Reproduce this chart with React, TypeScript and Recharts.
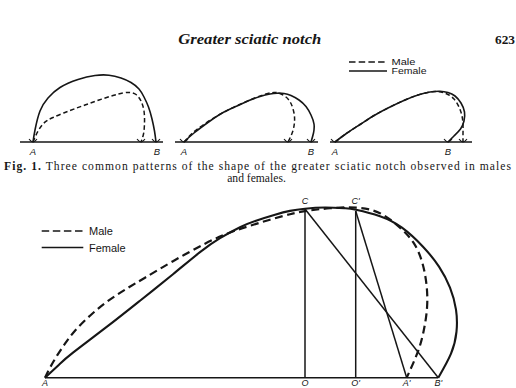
import { LineChart, Line, XAxis, YAxis } from "recharts"

const W = 516
const H = 388
const INK = "#161616"

type Pt = [number, number]

// Fig. 1: three outlines of the notch. x is measured from A along the base, h is the height above it
const notch1Female: Pt[] = [[0, 0], [2, 12], [7, 31], [15, 44], [27, 54.5], [45, 62.5], [62, 66.5], [76, 66.8], [88, 64], [98, 59.5], [106, 53], [111, 45], [115.5, 35], [119, 23], [121.5, 11], [123, 0]]
const notch1Male: Pt[] = [[0, 0], [4, 9], [10, 18], [20, 24.5], [37, 31.5], [52, 37], [66, 42], [80, 46.5], [90, 49], [97, 49.5], [103, 47.5], [108, 41], [111, 31], [111.5, 19], [110.5, 8], [108, 0]]
const notch2Female: Pt[] = [[0, 0], [10, 9], [26, 21], [40, 30], [53, 36], [65, 41.5], [76, 45.5], [86, 48], [93, 48.8], [100, 48.5], [107, 46.5], [115, 42], [122, 35.5], [127, 27], [130, 18], [129.5, 9], [127, 0]]
const notch2Male: Pt[] = [[0, 0], [8, 8.5], [19, 17], [33, 26], [46, 33], [60, 39.5], [72, 44.5], [82, 48], [90, 49.5], [96, 48.5], [102, 45], [107, 38.5], [110, 29], [110.5, 20], [108.5, 10], [104, 0]]
const notch3Female: Pt[] = [[0, 0], [12, 9], [25, 17.5], [40, 27], [55, 35], [70, 42], [83, 47], [95, 50], [105, 50.8], [113, 49.5], [120, 46], [126, 39], [129.5, 30], [129, 21], [125.5, 13], [119, 6], [113, 0]]
const notch3Male: Pt[] = [[0, 0], [12, 9], [25, 17.5], [40, 27], [55, 35], [70, 42], [83, 47], [95, 50], [104, 50.3], [112, 48], [119, 43], [124, 35], [127, 26], [128, 17], [128, 8], [128, 0]]

const notchA = [33, 184, 335]
const notchBaseY = 142
const notchBase: Pt[] = [[-13, 130], [-9, 134], [-5, 137]]
const notchLabels = [["A", "B"], ["A", "B"], ["A", "B"]]

// Fig. 2: mean outlines with the construction lines
const fig2Female: Pt[] = [[0, 0], [14, 13], [28, 25], [62, 51], [95, 77], [128, 103.5], [155, 125.5], [175, 139.5], [195, 150.5], [211, 157], [230, 163], [245, 166.8], [260, 169], [280, 170.2], [300, 169.5], [311, 168], [335, 161.5], [357, 150], [378, 131], [394, 111], [405, 90], [411, 68], [411.5, 46], [406, 24], [393.3, 0]]
const fig2Male: Pt[] = [[0, 0], [5, 10], [12, 22], [20, 34], [30, 47], [45, 62], [62, 76], [80, 88], [100, 100], [128, 116.5], [160, 134], [190, 147], [225, 158], [245, 163.5], [260, 166.5], [285, 169.5], [311.7, 170], [335, 164.5], [355, 150], [368.5, 135], [377, 116], [381.5, 93], [382, 69.5], [378.5, 46], [372.5, 25], [361.7, 0]]
const fig2Names = ["A", "C", "C'", "O", "O'", "A'", "B'"]
const fig2X = [0, 260, 310.7, 260, 310.7, 361.7, 393.3]
const fig2H = [0, 168.7, 166.7, 0, 0, 0, 0]
const fig2Segments = [["A", "B'"], ["C", "O"], ["C'", "O'"], ["C", "B'"], ["C'", "A'"]]

const fig2A = 45
const fig2BaseY = 377.7

const place = (pts: Pt[], ox: number, baseY: number) =>
  pts.map(([x, h]) => ({ x: ox + x, y: H - baseY + h }))

type Series = { id: string; data: { x: number; y: number }[]; dash?: string; width: number; curve: "natural" | "linear" }

const series: Series[] = []

const notchSets = [
  [notch1Male, notch1Female],
  [notch2Male, notch2Female],
  [notch3Male, notch3Female],
]
notchSets.forEach(([male, female], i) => {
  const ox = notchA[i]
  series.push({ id: `base${i}`, data: place([[notchBase[i][0], 0], [notchBase[i][1], 0]], ox, notchBaseY), width: 1.4, curve: "linear" })
  const ends = [0, female[female.length - 1][0], male[male.length - 1][0]]
  ends.forEach((e, j) => {
    series.push({ id: `tick${i}${j}`, data: place([[e - 4, 3], [e, 0], [e + 4, 3]], ox, notchBaseY), width: 1.1, curve: "natural" })
  })
  series.push({ id: `male${i}`, data: place(male, ox, notchBaseY), dash: "4.5 2.8", width: 1.5, curve: "natural" })
  series.push({ id: `female${i}`, data: place(female, ox, notchBaseY), width: 1.6, curve: "natural" })
})

const fig2Pt = (name: string): Pt => {
  const k = fig2Names.indexOf(name)
  return [fig2X[k], fig2H[k]]
}
fig2Segments.forEach(([a, b], i) => {
  series.push({ id: `seg${i}`, data: place([fig2Pt(a), fig2Pt(b)], fig2A, fig2BaseY), width: i === 0 ? 1.6 : 1.5, curve: "linear" })
})
series.push({ id: "fig2male", data: place(fig2Male, fig2A, fig2BaseY), dash: "8 4.5", width: 2.2, curve: "natural" })
series.push({ id: "fig2female", data: place(fig2Female, fig2A, fig2BaseY), width: 2.1, curve: "natural" })

const sans = "'Liberation Sans', Arial, sans-serif"
const serif = "'Liberation Serif', 'Times New Roman', serif"

function Texts() {
  return (
    <svg width={W} height={H} style={{ position: "absolute", left: 0, top: 0, pointerEvents: "none" }}>
      <text x={178.3} y={43.5} textLength={143} lengthAdjust="spacingAndGlyphs" fontFamily={serif} fontStyle="italic" fontWeight="bold" fontSize={14.5} fill={INK}>
        Greater sciatic notch
      </text>
      <text x={495} y={43.5} textLength={20} lengthAdjust="spacingAndGlyphs" fontFamily={serif} fontWeight="bold" fontSize={13.5} fill={INK}>
        623
      </text>

      <line x1={349} x2={387} y1={62} y2={62} stroke={INK} strokeWidth={1.5} strokeDasharray="6.5 3.2" />
      <line x1={349} x2={387} y1={71} y2={71} stroke={INK} strokeWidth={1.5} />
      <text x={391.5} y={65} textLength={24} lengthAdjust="spacingAndGlyphs" fontFamily={sans} fontSize={8.6} fill={INK}>Male</text>
      <text x={391.5} y={74.3} textLength={35} lengthAdjust="spacingAndGlyphs" fontFamily={sans} fontSize={8.6} fill={INK}>Female</text>

      {notchA.map((ox, i) => (
        <g key={i}>
          <text x={ox} y={154.5} textAnchor="middle" fontFamily={sans} fontStyle="italic" fontSize={9.5} fill={INK}>{notchLabels[i][0]}</text>
          <text x={ox + [124, 127, 113][i]} y={154.5} textAnchor="middle" fontFamily={sans} fontStyle="italic" fontSize={9.5} fill={INK}>{notchLabels[i][1]}</text>
        </g>
      ))}

      <text x={4} y={169.5} textLength={507} lengthAdjust="spacing" fontFamily={serif} fontSize={11.6} fill={INK}>
        <tspan fontWeight="bold">Fig. 1.</tspan> Three common patterns of the shape of the greater sciatic notch observed in males
      </text>
      <text x={256.5} y={181.5} textAnchor="middle" fontFamily={serif} fontSize={11.6} fill={INK}>
        and females.
      </text>

      <line x1={41.7} x2={83.3} y1={231} y2={231} stroke={INK} strokeWidth={1.6} strokeDasharray="7.5 3.6" />
      <line x1={41.7} x2={83.3} y1={247.5} y2={247.5} stroke={INK} strokeWidth={1.6} />
      <text x={89} y={235} fontFamily={sans} fontSize={11} fill={INK}>Male</text>
      <text x={89} y={251.5} fontFamily={sans} fontSize={11} fill={INK}>Female</text>

      {fig2Names.map((n, k) => (
        <text key={n} x={fig2A + fig2X[k]} y={fig2H[k] > 0 ? 204 : 386} textAnchor="middle" fontFamily={sans} fontStyle="italic" fontSize={9} fill={INK}>
          {n}
        </text>
      ))}
    </svg>
  )
}

export default function App() {
  return (
    <div style={{ position: "absolute", left: 0, top: 0, width: W, height: H, background: "#fff" }}>
      <LineChart width={W} height={H} margin={{ top: 0, right: 0, bottom: 0, left: 0 }}>
        <XAxis dataKey="x" type="number" domain={[0, W]} hide allowDataOverflow />
        <YAxis type="number" domain={[0, H]} hide allowDataOverflow />
        {series.map((s) => (
          <Line
            key={s.id}
            data={s.data}
            dataKey="y"
            type={s.curve}
            stroke={INK}
            strokeWidth={s.width}
            strokeDasharray={s.dash}
            dot={false}
            activeDot={false}
            isAnimationActive={false}
          />
        ))}
      </LineChart>
      <Texts />
    </div>
  )
}
